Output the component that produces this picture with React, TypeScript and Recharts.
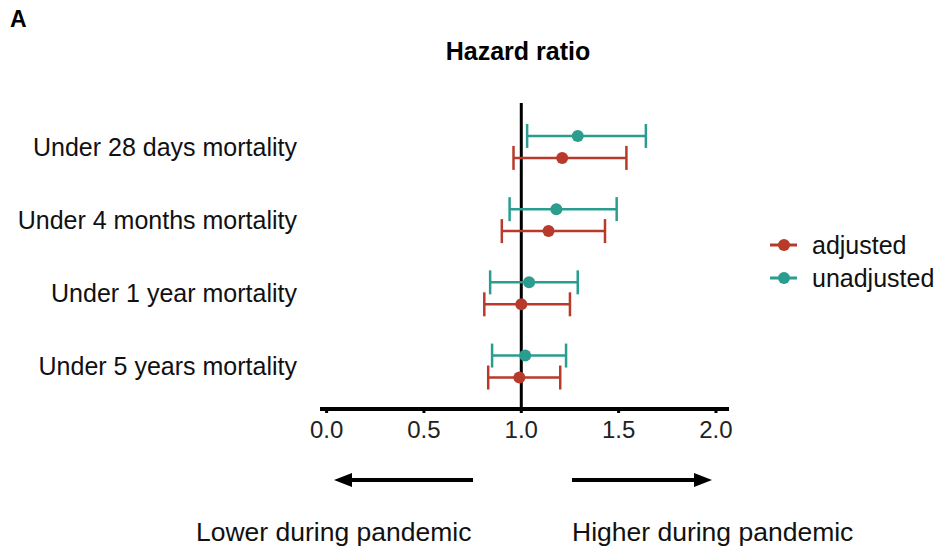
import { ComposedChart, Scatter, ErrorBar, XAxis, YAxis, ReferenceLine } from 'recharts';

const categories = [
  'Under 28 days mortality',
  'Under 4 months mortality',
  'Under 1 year mortality',
  'Under 5 years mortality',
];

// hazard ratios and 95% CI
const adjustedHR = [1.21, 1.14, 1.0, 0.99];
const adjustedLow = [0.96, 0.9, 0.81, 0.83];
const adjustedHigh = [1.54, 1.43, 1.25, 1.2];

const unadjustedHR = [1.29, 1.18, 1.04, 1.02];
const unadjustedLow = [1.03, 0.94, 0.84, 0.85];
const unadjustedHigh = [1.64, 1.49, 1.29, 1.23];

const xTicks = [0, 0.5, 1, 1.5, 2];

const RED = '#b83a2a';
const TEAL = '#2a9d8f';
const FONT = '"Liberation Sans", Arial, Helvetica, sans-serif';

// rows sit on integer y positions; the two series are nudged apart a bit
const buildRows = (hr: number[], lo: number[], hi: number[], nudge: number) =>
  hr.map((v, i) => ({ x: v, y: i + nudge, ex: [v - lo[i], hi[i] - v] }));

const adjustedData = buildRows(adjustedHR, adjustedLow, adjustedHigh, 0.15);
const unadjustedData = buildRows(unadjustedHR, unadjustedLow, unadjustedHigh, -0.15);

const dot = (color: string) => (props: any) => <circle cx={props.cx} cy={props.cy} r={6} fill={color} />;

const legendItems = [
  { name: 'adjusted', color: RED },
  { name: 'unadjusted', color: TEAL },
];

export default function App() {
  return (
    <div style={{ position: 'fixed', left: 0, top: 0, width: 939, height: 552, background: '#fff', fontFamily: FONT, overflow: 'hidden' }}>
      <ComposedChart width={939} height={552} margin={{ top: 103, right: 210, bottom: 0, left: 0 }}>
        <XAxis
          type="number"
          dataKey="x"
          domain={[-0.034, 2.067]}
          ticks={xTicks}
          allowDataOverflow
          tickFormatter={(v: number) => v.toFixed(1)}
          axisLine={{ stroke: '#000', strokeWidth: 4 }}
          tickLine={{ stroke: '#000', strokeWidth: 3 }}
          tickSize={4}
          tickMargin={8}
          height={143}
          tick={{ fill: '#222', fontSize: 24, fontFamily: FONT }}
        />
        <YAxis
          type="number"
          dataKey="y"
          domain={[-0.6, 3.58]}
          reversed
          allowDataOverflow
          ticks={[0, 1, 2, 3]}
          tickFormatter={(v: number) => categories[v] ?? ''}
          axisLine={false}
          tickLine={false}
          tickSize={0}
          tickMargin={23}
          width={320}
          tick={{ fill: '#111', fontSize: 25, fontFamily: FONT }}
        />
        <ReferenceLine x={1} stroke="#000" strokeWidth={3} />
        <Scatter data={unadjustedData} fill={TEAL} shape={dot(TEAL)} isAnimationActive={false}>
          <ErrorBar dataKey="ex" direction="x" width={12} stroke={TEAL} strokeWidth={2.5} />
        </Scatter>
        <Scatter data={adjustedData} fill={RED} shape={dot(RED)} isAnimationActive={false}>
          <ErrorBar dataKey="ex" direction="x" width={12} stroke={RED} strokeWidth={2.5} />
        </Scatter>
      </ComposedChart>

      <svg width={939} height={552} style={{ position: 'absolute', left: 0, top: 0, pointerEvents: 'none' }}>
        <text x={10} y={27} fontSize={23} fontWeight="bold" fill="#000" fontFamily={FONT}>A</text>
        <text x={518} y={60} fontSize={25} fontWeight="bold" fill="#000" textAnchor="middle" fontFamily={FONT}>
          Hazard ratio
        </text>

        {legendItems.map((it, i) => (
          <g key={it.name} transform={`translate(0, ${245 + i * 33})`}>
            <line x1={770} x2={797} y1={0} y2={0} stroke={it.color} strokeWidth={3} />
            <circle cx={784} cy={0} r={6} fill={it.color} />
            <text x={812} y={0} dy="0.35em" fontSize={25} fill="#111" fontFamily={FONT}>{it.name}</text>
          </g>
        ))}

        <line x1={350} x2={473} y1={480} y2={480} stroke="#000" strokeWidth={4} />
        <polygon points="334,480 352,473 352,487" fill="#000" />
        <line x1={572} x2={696} y1={480} y2={480} stroke="#000" strokeWidth={4} />
        <polygon points="712,480 694,473 694,487" fill="#000" />

        <text x={196} y={541} fontSize={26.5} fill="#111" fontFamily={FONT}>Lower during pandemic</text>
        <text x={572} y={541} fontSize={26.5} fill="#111" fontFamily={FONT}>Higher during pandemic</text>
      </svg>
    </div>
  );
}
